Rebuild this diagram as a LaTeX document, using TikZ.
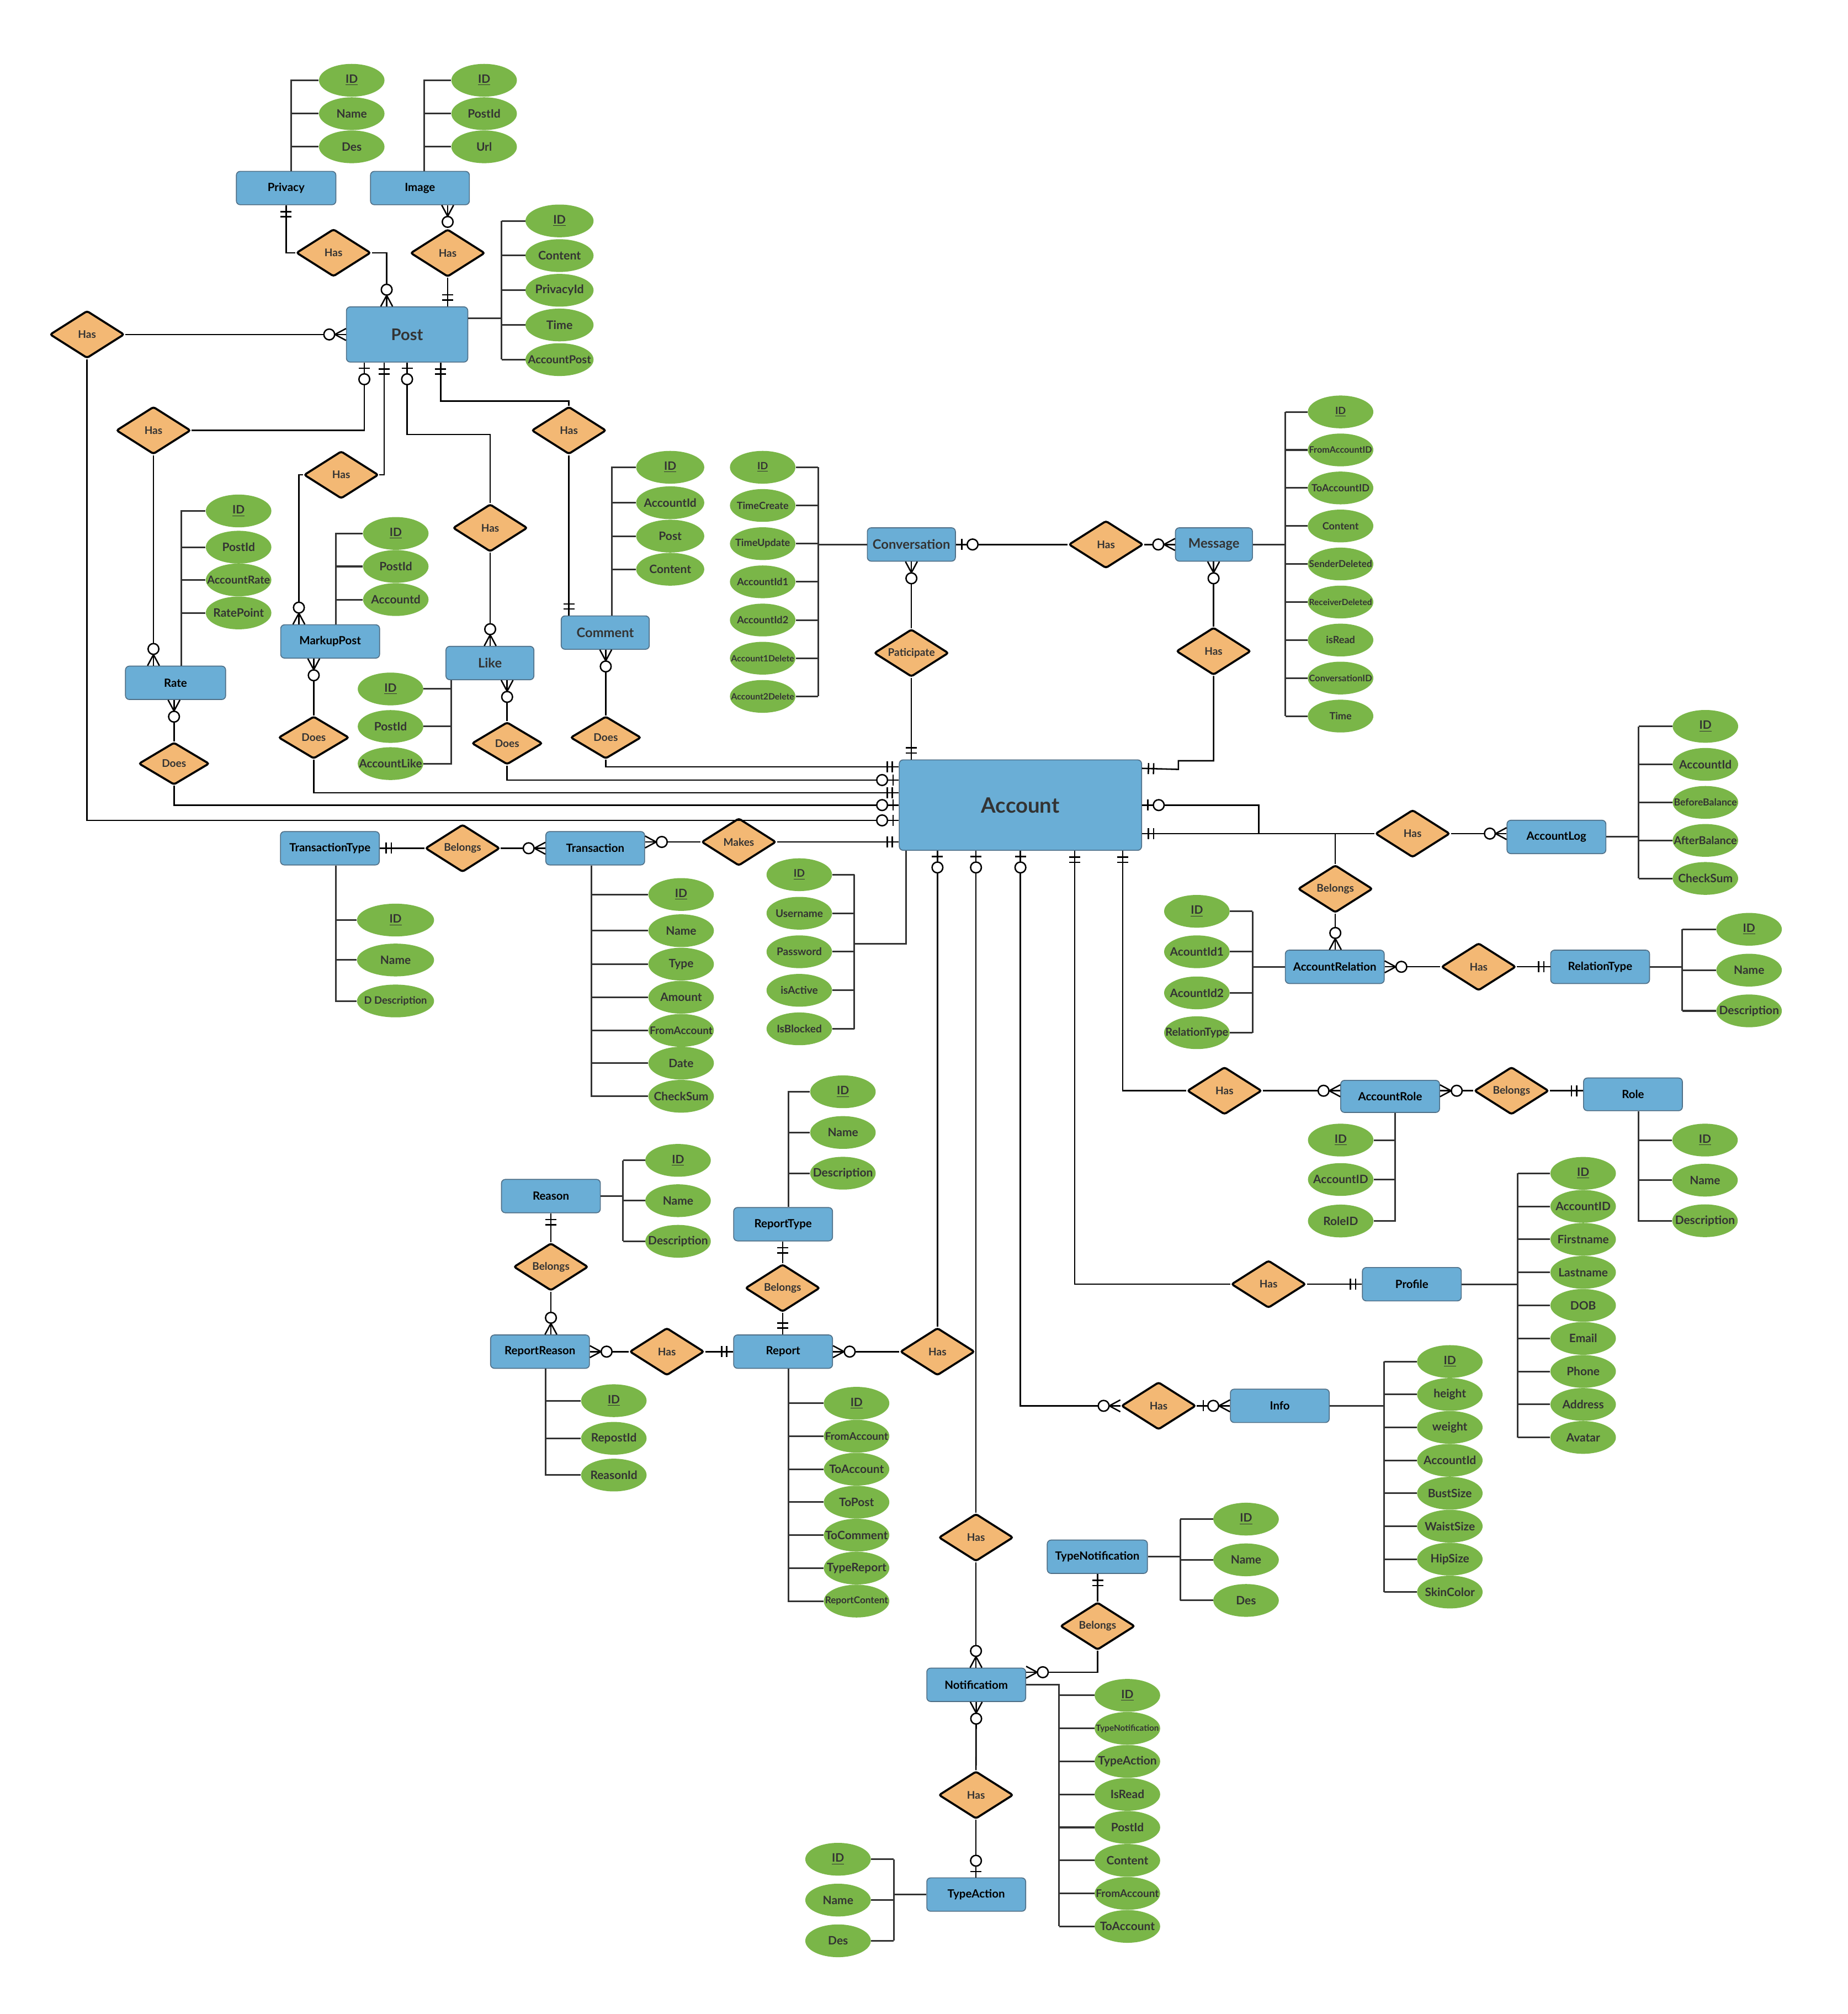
\documentclass[tikz,border=0pt]{standalone}
\usepackage{fontspec}
\setmainfont{Lato}
\usepackage{graphicx}
\usetikzlibrary{shapes.geometric,calc}

\definecolor{entfill}{HTML}{6AAED6}
\definecolor{entline}{HTML}{4F6F87}
\definecolor{attrfill}{HTML}{7AB648}
\definecolor{relfill}{HTML}{F3B874}
\definecolor{ink}{HTML}{333333}

% Crow's foot end marks: the tip sits on the entity border, marks lie back along the line
\pgfdeclarearrow{
  name = ErOne,
  setup code = {
    \pgfarrowssettipend{0pt}
    \pgfarrowssetlineend{0pt}
    \pgfarrowssetbackend{-10pt}
    \pgfarrowshullpoint{0pt}{4.5pt}
    \pgfarrowshullpoint{0pt}{-4.5pt}
    \pgfarrowshullpoint{-10pt}{4.5pt}
    \pgfarrowshullpoint{-10pt}{-4.5pt}
  },
  drawing code = {
    \pgfsetdash{}{0pt}
    \pgfsetbuttcap
    \pgfpathmoveto{\pgfqpoint{-5pt}{-4.3pt}}
    \pgfpathlineto{\pgfqpoint{-5pt}{4.3pt}}
    \pgfpathmoveto{\pgfqpoint{-9pt}{-4.3pt}}
    \pgfpathlineto{\pgfqpoint{-9pt}{4.3pt}}
    \pgfusepathqstroke
  }
}
\pgfdeclarearrow{
  name = ErTick,
  setup code = {
    \pgfarrowssettipend{0pt}
    \pgfarrowssetlineend{0pt}
    \pgfarrowssetbackend{-6pt}
    \pgfarrowshullpoint{0pt}{4.5pt}
    \pgfarrowshullpoint{0pt}{-4.5pt}
    \pgfarrowshullpoint{-6pt}{4.5pt}
    \pgfarrowshullpoint{-6pt}{-4.5pt}
  },
  drawing code = {
    \pgfsetdash{}{0pt}
    \pgfsetbuttcap
    \pgfpathmoveto{\pgfqpoint{-5pt}{-4.3pt}}
    \pgfpathlineto{\pgfqpoint{-5pt}{4.3pt}}
    \pgfusepathqstroke
  }
}
\pgfdeclarearrow{
  name = ErZeroOne,
  setup code = {
    \pgfarrowssettipend{0pt}
    \pgfarrowssetlineend{0pt}
    \pgfarrowssetbackend{-17.5pt}
    \pgfarrowshullpoint{0pt}{4.5pt}
    \pgfarrowshullpoint{0pt}{-4.5pt}
    \pgfarrowshullpoint{-17.5pt}{4.5pt}
    \pgfarrowshullpoint{-17.5pt}{-4.5pt}
  },
  drawing code = {
    \pgfsetdash{}{0pt}
    \pgfsetbuttcap
    \pgfpathmoveto{\pgfqpoint{-4.5pt}{-4.3pt}}
    \pgfpathlineto{\pgfqpoint{-4.5pt}{4.3pt}}
    \pgfusepathqstroke
    \pgfsetfillcolor{white}
    \pgfpathcircle{\pgfqpoint{-13pt}{0pt}}{4.2pt}
    \pgfusepathqfillstroke
  }
}
\pgfdeclarearrow{
  name = ErZeroMany,
  setup code = {
    \pgfarrowssettipend{0pt}
    \pgfarrowssetlineend{0pt}
    \pgfarrowssetbackend{-17.5pt}
    \pgfarrowshullpoint{0pt}{4.8pt}
    \pgfarrowshullpoint{0pt}{-4.8pt}
    \pgfarrowshullpoint{-17.5pt}{4.5pt}
    \pgfarrowshullpoint{-17.5pt}{-4.5pt}
  },
  drawing code = {
    \pgfsetdash{}{0pt}
    \pgfsetroundjoin
    \pgfpathmoveto{\pgfqpoint{0pt}{4.6pt}}
    \pgfpathlineto{\pgfqpoint{-8.6pt}{0pt}}
    \pgfpathlineto{\pgfqpoint{0pt}{-4.6pt}}
    \pgfusepathqstroke
    \pgfsetfillcolor{white}
    \pgfpathcircle{\pgfqpoint{-13pt}{0pt}}{4.2pt}
    \pgfusepathqfillstroke
  }
}

\tikzset{
  ent/.style={rectangle, rounded corners=3pt, fill=entfill, draw=entline, line width=0.7pt,
    minimum width=77pt, minimum height=26pt, inner sep=0pt,
    font=\bfseries\fontsize{8.8}{10}\selectfont, text=black},
  entbig/.style={ent, font=\bfseries\fontsize{10.2}{12}\selectfont, text=ink},
  attr/.style={ellipse, fill=attrfill, draw=none, minimum width=51pt, minimum height=25.5pt,
    inner sep=0pt, font=\bfseries\fontsize{9}{10}\selectfont, text=ink},
  attrsm/.style={font=\bfseries\fontsize{7.8}{9}\selectfont},
  attrmd/.style={font=\bfseries\fontsize{8.2}{9}\selectfont},
  rel/.style={diamond, fill=relfill, draw=black, line width=1.6pt, rounded corners=1.6pt,
    minimum width=58pt, minimum height=37pt, inner sep=0pt,
    font=\bfseries\fontsize{8.2}{9}\selectfont, text=ink},
  does/.style={minimum width=55pt, minimum height=33pt},
  conn/.style={draw=black, line width=1.1pt},
  bracket/.style={draw=ink, line width=1.3pt},
}

% attribute text is scaled down to fit the ellipse; the ellipse keeps its own size
\newcommand\fitw[1]{\resizebox{\ifdim\width>49pt 49pt\else\width\fi}{!}{#1}}
\newcommand\attr[4][]{\node[attr,#1] (#2) at (#3) {\makebox[0pt]{\fitw{#4}}};}
\newcommand\rel[4][]{\node[rel,#1] (#2) at (#3) {\makebox[0pt]{#4}};}
\newcommand\idl{\underline{ID}}

\begin{document}
\begin{tikzpicture}[x=1pt,y=-1pt]
\fill[white] (0,0) rectangle (1439,1568);
\useasboundingbox (0,0) rectangle (1439,1568);

% ================= entities =================
\node[ent,minimum width=77.5pt] (privacy) at (222.8,146.4) {Privacy};
\node[ent] (image) at (327,146.4) {Image};
\node[ent,minimum width=94.5pt,minimum height=43pt,font=\bfseries\fontsize{12.5}{14}\selectfont,text=ink] (post) at (317,260.4) {Post};
\node[ent,minimum width=78pt] (rate) at (136.7,531.6) {Rate};
\node[ent] (markup) at (257.1,499.4) {MarkupPost};
\node[entbig,minimum width=68.5pt] (like) at (381.5,516.2) {Like};
\node[entbig,minimum width=68.6pt] (comment) at (471.3,492.5) {Comment};
\node[entbig,minimum width=68.6pt] (conv) at (709.7,423.9) {Conversation};
\node[entbig,minimum width=60pt] (msg) at (945.3,423.9) {Message};
\node[ent,minimum width=188.7pt,minimum height=70.4pt,font=\bfseries\fontsize{16.5}{18}\selectfont,text=ink] (account) at (794.6,626.8) {Account};
\node[ent] (alog) at (1212,651.6) {AccountLog};
\node[ent] (arel) at (1039.4,752.7) {AccountRelation};
\node[ent] (rtype) at (1246,752.7) {RelationType};
\node[ent] (ttype) at (256.9,660.4) {TransactionType};
\node[ent] (trans) at (463.5,660.4) {Transaction};
\node[ent,minimum height=25pt] (arole) at (1082.5,853.6) {AccountRole};
\node[ent,minimum height=25.5pt] (role) at (1271.6,852) {Role};
\node[ent] (profile) at (1099.4,999.8) {Profile};
\node[ent] (info) at (996.6,1094.5) {Info};
\node[ent] (reason) at (429,931.2) {Reason};
\node[ent] (rtypeR) at (609.8,953.1) {ReportType};
\node[ent] (rreason) at (420.5,1052.3) {ReportReason};
\node[ent] (report) at (609.8,1052.3) {Report};
\node[ent,minimum width=78pt] (tnotif) at (854.5,1212) {TypeNotification};
\node[ent] (notif) at (760.2,1311.7) {Notificatiom};
\node[ent] (taction) at (760.2,1475) {TypeAction};

% ================= relationships =================
\rel{hPriv}{259.7,196.8}{Has}
\rel{hImg}{348.6,197}{Has}
\rel{hPostL}{67.8,260.4}{Has}
\rel{hRate}{119.5,335.1}{Has}
\rel{hMark}{265.7,369.7}{Has}
\rel{hLike}{381.7,411}{Has}
\rel{hCom}{443,335.1}{Has}
\rel[does]{dRate}{135.5,594.5}{Does}
\rel[does]{dMark}{244.3,574.2}{Does}
\rel[does]{dLike}{394.9,578.7}{Does}
\rel[does]{dCom}{471.7,574.2}{Does}
\rel{hConvMsg}{861.2,423.9}{Has}
\rel{pConv}{709.7,508.4}{Paticipate}
\rel{hMsg}{945,507}{Has}
\rel{hLog}{1100,649}{Has}
\rel{bRel}{1039.8,692}{Belongs}
\rel{hRel}{1151.4,752.7}{Has}
\rel{bTrans}{360.2,660.4}{Belongs}
\rel{makes}{575.3,655.5}{Makes}
\rel{hRole}{953.5,849.2}{Has}
\rel{bRole}{1177,849.2}{Belongs}
\rel{hProf}{987.8,999.8}{Has}
\rel{hInfo}{902.2,1094.5}{Has}
\rel{bReason}{429,986.3}{Belongs}
\rel{bRtype}{609.4,1002.8}{Belongs}
\rel{hRR}{519.3,1052.3}{Has}
\rel{hRep}{730,1052.3}{Has}
\rel{hNotif}{760,1197}{Has}
\rel{bNotif}{854.7,1266}{Belongs}
\rel{hTA}{760,1397.5}{Has}

% ================= relationship lines =================
% Post neighbourhood
\draw[conn,-{ErOne}] (hPriv.west) -| (privacy.south);
\draw[conn,-{ErZeroMany}] (hPriv.east) -| ($(post.north west)+(31.7,0)$);
\draw[conn,{ErZeroMany}-] (image.south -| hImg.north) -- (hImg.north);
\draw[conn,-{ErOne}] (hImg.south) -- (hImg.south |- post.north);
\draw[conn,-{ErZeroMany}] (hPostL.east) -- (post.west);
\draw[conn,-{ErZeroOne}] (hPostL.south) |- ($(account.west)+(0,11.9)$);
\draw[conn,-{ErZeroOne}] (hRate.east) -| ($(post.south west)+(14.3,0)$);
\draw[conn,-{ErZeroMany}] (hRate.south) -- (hRate.south |- rate.north);
\draw[conn,{ErOne}-] ($(post.south west)+(29.7,0)$) |- (hMark.east);
\draw[conn,-{ErZeroMany}] (hMark.west) -| ($(markup.north west)+(14.5,0)$);
\draw[conn,{ErZeroOne}-] (post.south) -- ++(0,56) -| (hLike.north);
\draw[conn,-{ErZeroMany}] (hLike.south) -- (hLike.south |- like.north);
\draw[conn,{ErOne}-] ($(post.south west)+(73.7,0)$) -- ++(0,30.1) -| (hCom.north);
\draw[conn,-{ErOne}] (hCom.south) -- (hCom.south |- comment.north);

% activities of an account
\draw[conn,{ErZeroMany}-] (dRate.north |- rate.south) -- (dRate.north);
\draw[conn,-{ErZeroOne}] (dRate.south) |- (account.west);
\draw[conn,{ErZeroMany}-] (dMark.north |- markup.south) -- (dMark.north);
\draw[conn,-{ErOne}] (dMark.south) |- ($(account.west)+(0,-9.6)$);
\draw[conn,{ErZeroMany}-] (dLike.north |- like.south) -- (dLike.north);
\draw[conn,-{ErZeroOne}] (dLike.south) |- ($(account.west)+(0,-19.5)$);
\draw[conn,{ErZeroMany}-] (dCom.north |- comment.south) -- (dCom.north);
\draw[conn,-{ErOne}] (dCom.south) |- ($(account.west)+(0,-29.8)$);

% conversations and messages
\draw[conn,{ErZeroOne}-] (conv.east) -- (hConvMsg.west);
\draw[conn,-{ErZeroMany}] (hConvMsg.east) -- (msg.west);
\draw[conn,{ErZeroMany}-] (conv.south) -- (pConv.north);
\draw[conn,-{ErOne}] (pConv.south) -- (pConv.south |- account.north);
\draw[conn,{ErZeroMany}-] (hMsg.north |- msg.south) -- (hMsg.north);
\draw[conn,-{ErOne}] (hMsg.south) -- ++(0,66) -- ++(-27.4,0) -- ++(0,6.7) -- ($(account.east)+(0,-28.6)$);

% account log and relations
\draw[conn,{ErZeroOne}-] (account.east) -- ++(91,0) |- (hLog.west);
\draw[conn,{ErOne}-] ($(account.east)+(0,22.2)$) -| (bRel.north);
\draw[conn,-{ErZeroMany}] (hLog.east) -- (hLog.east -| alog.west);
\draw[conn,-{ErZeroMany}] (bRel.south) -- (bRel.south |- arel.north);
\draw[conn,{ErZeroMany}-] (arel.east) -- (hRel.west);
\draw[conn,-{ErOne}] (hRel.east) -- (rtype.west);

% transactions
\draw[conn,{ErOne}-] (ttype.east) -- (bTrans.west);
\draw[conn,-{ErZeroMany}] (bTrans.east) -- (trans.west);
\draw[conn,{ErZeroMany}-] (makes.west -| trans.east) -- (makes.west);
\draw[conn,-{ErOne}] (makes.east) -- (makes.east -| account.west);

% lines leaving the bottom of the account
\draw[conn,{ErZeroOne}-] (hRep.north |- account.south) -- (hRep.north);
\draw[conn,{ErZeroOne}-] (hNotif.north |- account.south) -- (hNotif.north);
\draw[conn,{ErZeroOne}-{ErZeroMany}] (account.south) |- (hInfo.west);
\draw[conn,{ErOne}-] ($(account.south)+(42.3,0)$) |- (hProf.west);
\draw[conn,{ErOne}-] ($(account.south)+(79.6,0)$) |- (hRole.west);
\draw[conn,-{ErOne}] (hProf.east) -- (hProf.east -| profile.west);
\draw[conn,{ErTick}-{ErZeroMany}] (hInfo.east) -- (hInfo.east -| info.west);
\draw[conn,-{ErZeroMany}] (hRole.east) -- (hRole.east -| arole.west);
\draw[conn,{ErZeroMany}-] (bRole.west -| arole.east) -- (bRole.west);
\draw[conn,-{ErOne}] (bRole.east) -- (bRole.east -| role.west);

% reports
\draw[conn,{ErOne}-] (reason.south) -- (bReason.north);
\draw[conn,-{ErZeroMany}] (bReason.south) -- (bReason.south |- rreason.north);
\draw[conn,{ErZeroMany}-] (rreason.east) -- (hRR.west);
\draw[conn,-{ErOne}] (hRR.east) -- (report.west);
\draw[conn,{ErOne}-] (bRtype.north |- rtypeR.south) -- (bRtype.north);
\draw[conn,-{ErOne}] (bRtype.south) -- (bRtype.south |- report.north);
\draw[conn,{ErZeroMany}-] (report.east) -- (hRep.west);

% notifications
\draw[conn,-{ErZeroMany}] (hNotif.south) -- (hNotif.south |- notif.north);
\draw[conn,{ErOne}-] (bNotif.north |- tnotif.south) -- (bNotif.north);
\draw[conn,-{ErZeroMany}] (bNotif.south) |- ($(notif.east)+(0,-9.8)$);
\draw[conn,{ErZeroMany}-] (notif.south) -- (hTA.north);
\draw[conn,-{ErZeroOne}] (hTA.south) -- (hTA.south |- taction.north);

% ================= attributes =================
% Privacy
\attr{pv1}{273.9,62.5}{\idl}
\attr{pv2}{273.9,88.5}{Name}
\attr{pv3}{273.9,114.3}{Des}
\coordinate (pvb) at (226.8,0);
\draw[bracket] (privacy.north -| pvb) |- (pv1.west);
\foreach \n in {pv2,pv3} \draw[bracket] (\n.west) -- (\n.west -| pvb);

% Image
\attr{im1}{377,62.5}{\idl}
\attr{im2}{377,88.5}{PostId}
\attr{im3}{377,114.3}{Url}
\coordinate (imb) at (330.4,0);
\draw[bracket] (image.north -| imb) |- (im1.west);
\foreach \n in {im2,im3} \draw[bracket] (\n.west) -- (\n.west -| imb);

% Post
\foreach \t [count=\i] in {{\idl},Content,PrivacyId,Time,AccountPost}
  \attr[minimum width=53pt,font=\bfseries\fontsize{9.2}{10}\selectfont]{po\i}{435.7,{172+27*(\i-1)}}{\t}
\coordinate (pob) at (390.6,0);
\draw[bracket] (po1.west -| pob) -- (po5.west -| pob);
\coordinate (pe) at ($(post.east)+(0,-12.8)$);
\draw[bracket] (pe) -- (pe -| pob);
\foreach \i in {1,...,5} \draw[bracket] (po\i.west) -- (po\i.west -| pob);

% Rate
\attr{ra1}{185.8,397.8}{\idl}
\attr{ra2}{185.8,426}{PostId}
\attr{ra3}{185.8,451.5}{AccountRate}
\attr{ra4}{185.8,477.2}{RatePoint}
\coordinate (rab) at (141.3,0);
\draw[bracket] (rate.north -| rab) |- (ra1.west);
\foreach \n in {ra2,ra3,ra4} \draw[bracket] (\n.west) -- (\n.west -| rab);

% MarkupPost
\attr{mk1}{308.2,415.3}{\idl}
\attr{mk2}{308.2,441}{PostId}
\attr{mk3}{308.2,466.8}{Accountd}
\coordinate (mkb) at (261.6,0);
\draw[bracket] (markup.north -| mkb) |- (mk1.west);
\foreach \n in {mk2,mk3} \draw[bracket] (\n.west) -- (\n.west -| mkb);

% Like
\attr{lk1}{304.1,536.4}{\idl}
\attr{lk2}{304.1,565.6}{PostId}
\attr{lk3}{304.1,594.5}{AccountLike}
\coordinate (lkb) at (351.4,0);
\draw[bracket] (like.south -| lkb) |- (lk3.east);
\foreach \n in {lk1,lk2} \draw[bracket] (\n.east) -- (\n.east -| lkb);

% Comment
\attr[minimum width=53pt]{cm1}{521.9,363.8}{\idl}
\attr[minimum width=53pt]{cm2}{521.9,391.4}{AccountId}
\attr[minimum width=53pt]{cm3}{521.9,417.4}{Post}
\attr[minimum width=53pt]{cm4}{521.9,443.2}{Content}
\coordinate (cmb) at (476.5,0);
\draw[bracket] (comment.north -| cmb) |- (cm1.west);
\foreach \n in {cm2,cm3,cm4} \draw[bracket] (\n.west) -- (\n.west -| cmb);

% Conversation
\foreach \t [count=\i] in {{\idl},TimeCreate,TimeUpdate,AccountId1,AccountId2,Account1Delete,Account2Delete}
  \attr[attrsm]{cv\i}{593.9,{363.8+29.73*(\i-1)}}{\t}
\coordinate (cvb) at (637,0);
\draw[bracket] (cv1.east -| cvb) -- (cv7.east -| cvb);
\foreach \i in {1,...,7} \draw[bracket] (cv\i.east) -- (cv\i.east -| cvb);
\draw[bracket] (conv.west) -- (conv.west -| cvb);

% Message
\foreach \t [count=\i] in {{\idl},FromAccountID,ToAccountID,Content,SenderDeleted,ReceiverDeleted,isRead,ConversationID,Time}
  \attr[attrsm]{ms\i}{1043.9,{320.7+29.6*(\i-1)}}{\t}
\coordinate (msb) at (1001,0);
\draw[bracket] (ms1.west -| msb) -- (ms9.west -| msb);
\foreach \i in {1,...,9} \draw[bracket] (ms\i.west) -- (ms\i.west -| msb);
\draw[bracket] (msg.east) -- (msg.east -| msb);

% Account
\foreach \t [count=\i] in {{\idl},Username,Password,isActive,IsBlocked}
  \attr[attrmd]{ac\i}{622.4,{681+30*(\i-1)}}{\t}
\coordinate (acb) at (665.3,0);
\coordinate (acj) at (665.3,734.6);
\draw[bracket] (ac1.east -| acb) -- (ac5.east -| acb);
\foreach \i in {1,...,5} \draw[bracket] (ac\i.east) -- (ac\i.east -| acb);
\draw[bracket] ($(account.south west)+(5.5,0)$) |- (acj);

% AccountLog
\foreach \t [count=\i] in {{\idl},AccountId,BeforeBalance,AfterBalance,CheckSum}
  \attr{al\i}{1328,{565.5+29.6*(\i-1)}}{\t}
\coordinate (alb) at (1276,0);
\draw[bracket] (al1.west -| alb) -- (al5.west -| alb);
\foreach \i in {1,...,5} \draw[bracket] (al\i.west) -- (al\i.west -| alb);
\draw[bracket] (alog.east) -- (alog.east -| alb);

% AccountRelation
\attr{ar1}{932,709.5}{\idl}
\attr{ar2}{932,741}{AcountId1}
\attr{ar3}{932,773}{AcountId2}
\attr{ar4}{932,804}{RelationType}
\coordinate (arb) at (975.4,0);
\draw[bracket] (ar1.east -| arb) -- (ar4.east -| arb);
\foreach \i in {1,...,4} \draw[bracket] (ar\i.east) -- (ar\i.east -| arb);
\draw[bracket] (arel.west) -- (arel.west -| arb);

% RelationType
\attr{rt1}{1362,723.5}{\idl}
\attr{rt2}{1362,755.3}{Name}
\attr{rt3}{1362,787}{Description}
\coordinate (rtb) at (1310,0);
\draw[bracket] (rt1.west -| rtb) -- (rt3.west -| rtb);
\foreach \i in {1,2,3} \draw[bracket] (rt\i.west) -- (rt\i.west -| rtb);
\draw[bracket] (rtype.east) -- (rtype.east -| rtb);

% TransactionType
\attr[minimum width=60pt]{tt1}{308,716.3}{\idl}
\attr[minimum width=60pt]{tt2}{308,747.4}{Name}
\attr[minimum width=60pt]{tt3}{308,779.3}{D Description}
\coordinate (ttb) at (261.7,0);
\draw[bracket] (ttype.south -| ttb) |- (tt3.west);
\foreach \n in {tt1,tt2} \draw[bracket] (\n.west) -- (\n.west -| ttb);

% Transaction
\attr{tr1}{530.4,696.4}{\idl}
\attr{tr2}{530.4,724.6}{Name}
\attr{tr3}{530.4,750.6}{Type}
\attr{tr4}{530.4,776.4}{Amount}
\attr{tr5}{530.4,802.2}{FromAccount}
\attr{tr6}{530.4,827.7}{Date}
\attr{tr7}{530.4,853.5}{CheckSum}
\coordinate (trb) at (460.4,0);
\draw[bracket] (trans.south -| trb) |- (tr7.west);
\foreach \i in {1,...,6} \draw[bracket] (tr\i.west) -- (tr\i.west -| trb);

% AccountRole
\attr{ro1}{1044,887.6}{\idl}
\attr{ro2}{1044,918.3}{AccountID}
\attr{ro3}{1044,950.6}{RoleID}
\coordinate (rob) at (1086.2,0);
\draw[bracket] (arole.south -| rob) |- (ro3.east);
\foreach \n in {ro1,ro2} \draw[bracket] (\n.east) -- (\n.east -| rob);

% Role
\attr{rl1}{1327.7,887.6}{\idl}
\attr{rl2}{1327.7,918.8}{Name}
\attr{rl3}{1327.7,950.4}{Description}
\coordinate (rlb) at (1275.8,0);
\draw[bracket] (role.south -| rlb) |- (rl3.west);
\foreach \n in {rl1,rl2} \draw[bracket] (\n.west) -- (\n.west -| rlb);

% Profile
\foreach \t [count=\i] in {{\idl},AccountID,Firstname,Lastname,DOB,Email,Phone,Address,Avatar}
  \attr{pf\i}{1232.8,{913.5+25.7*(\i-1)}}{\t}
\coordinate (pfb) at (1181.8,0);
\draw[bracket] (pf1.west -| pfb) -- (pf9.west -| pfb);
\foreach \i in {1,...,9} \draw[bracket] (pf\i.west) -- (pf\i.west -| pfb);
\draw[bracket] (profile.east) -- (profile.east -| pfb);

% Info
\foreach \t [count=\i] in {{\idl},height,weight,AccountId,BustSize,WaistSize,HipSize,SkinColor}
  \attr{in\i}{1129,{1060+25.64*(\i-1)}}{\t}
\coordinate (inb) at (1077.8,0);
\draw[bracket] (in1.west -| inb) -- (in8.west -| inb);
\foreach \i in {1,...,8} \draw[bracket] (in\i.west) -- (in\i.west -| inb);
\draw[bracket] (info.east) -- (info.east -| inb);

% Reason
\attr{rs1}{528,903.4}{\idl}
\attr{rs2}{528,934.8}{Name}
\attr{rs3}{528,966.4}{Description}
\coordinate (rsb) at (485.1,0);
\draw[bracket] (rs1.west -| rsb) -- (rs3.west -| rsb);
\foreach \i in {1,2,3} \draw[bracket] (rs\i.west) -- (rs\i.west -| rsb);
\draw[bracket] (reason.east) -- (reason.east -| rsb);

% ReportType
\attr{rp1}{656.4,850}{\idl}
\attr{rp2}{656.4,881.7}{Name}
\attr{rp3}{656.4,913.4}{Description}
\coordinate (rpb) at (614,0);
\draw[bracket] (rtypeR.north -| rpb) |- (rp1.west);
\foreach \n in {rp2,rp3} \draw[bracket] (\n.west) -- (\n.west -| rpb);

% ReportReason
\attr{rr1}{478,1090.5}{\idl}
\attr{rr2}{478,1119.8}{RepostId}
\attr{rr3}{478,1148.4}{ReasonId}
\coordinate (rrb) at (425,0);
\draw[bracket] (rreason.south -| rrb) |- (rr3.west);
\foreach \n in {rr1,rr2} \draw[bracket] (\n.west) -- (\n.west -| rrb);

% Report
\foreach \t [count=\i] in {{\idl},FromAccount,ToAccount,ToPost,ToComment,TypeReport,ReportContent}
  \attr{re\i}{667,{1092.5+25.67*(\i-1)}}{\t}
\coordinate (reb) at (614,0);
\draw[bracket] (report.south -| reb) |- (re7.west);
\foreach \i in {1,...,6} \draw[bracket] (re\i.west) -- (re\i.west -| reb);

% TypeNotification
\attr{tn1}{970.3,1182.7}{\idl}
\attr{tn2}{970.3,1214.4}{Name}
\attr{tn3}{970.3,1246}{Des}
\coordinate (tnb) at (919.1,0);
\draw[bracket] (tn1.west -| tnb) -- (tn3.west -| tnb);
\foreach \i in {1,2,3} \draw[bracket] (tn\i.west) -- (tn\i.west -| tnb);
\draw[bracket] (tnotif.east) -- (tnotif.east -| tnb);

% Notification
\foreach \t [count=\i] in {{\idl},TypeNotification,TypeAction,IsRead,PostId,Content,FromAccount,ToAccount}
  \attr{nt\i}{877.9,{1319.9+25.7*(\i-1)}}{\t}
\coordinate (ntb) at (824.8,0);
\draw[bracket] (notif.east) -| (nt8.west -| ntb);
\foreach \i in {1,...,8} \draw[bracket] (nt\i.west) -- (nt\i.west -| ntb);

% TypeAction
\attr{ta1}{652.6,1447.5}{\idl}
\attr{ta2}{652.6,1479.3}{Name}
\attr{ta3}{652.6,1511}{Des}
\coordinate (tab) at (696,0);
\draw[bracket] (ta1.east -| tab) -- (ta3.east -| tab);
\foreach \i in {1,2,3} \draw[bracket] (ta\i.east) -- (ta\i.east -| tab);
\draw[bracket] (taction.west) -- (taction.west -| tab);

\end{tikzpicture}
\end{document}
